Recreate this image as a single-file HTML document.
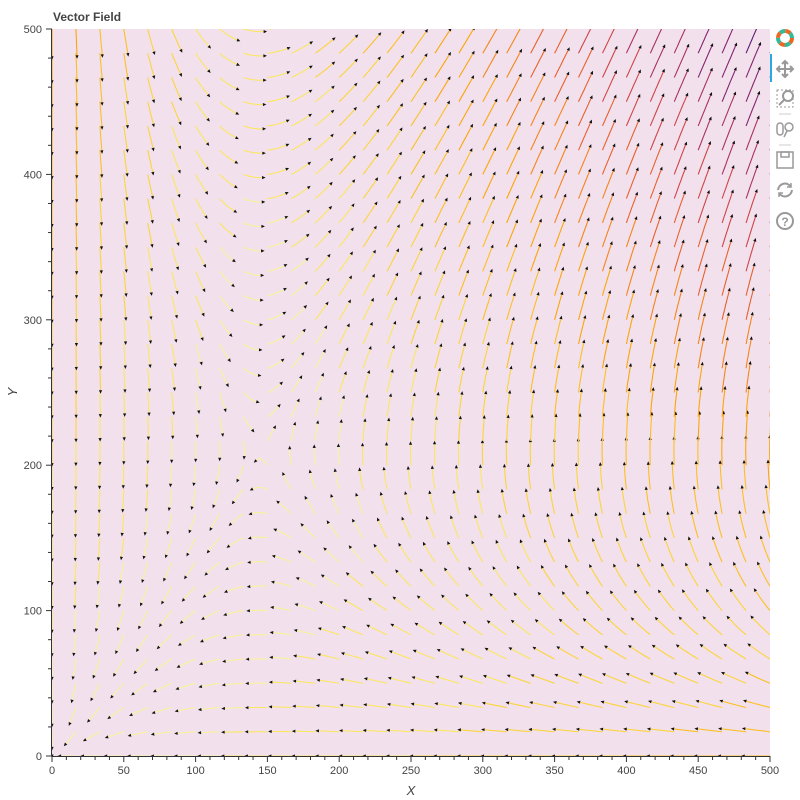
<!DOCTYPE html>
<html><head><meta charset="utf-8"><style>
body{margin:0;background:#fff;width:800px;height:800px;overflow:hidden;font-family:"Liberation Sans",sans-serif}
</style></head><body>
<svg id="chart" width="800" height="800" xmlns="http://www.w3.org/2000/svg" style="position:absolute;left:0;top:0">
<defs><clipPath id="clip"><rect x="52" y="29" width="718" height="727"/></clipPath></defs>
<text x="53" y="21" font-size="12" font-weight="bold" fill="#444">Vector Field</text>
<rect x="52" y="29" width="718" height="727" fill="#f2e1ed"/>
<g id="field" clip-path="url(#clip)"></g>
<g id="axes"></g>
<text x="411" y="795" font-size="13" font-style="italic" fill="#444" text-anchor="middle">X</text>
<text x="17" y="392" font-size="13" font-style="italic" fill="#444" text-anchor="middle" transform="rotate(-90 17 392)">Y</text>
<g>
 <g transform="translate(785,38)">
  <circle r="7" fill="none" stroke="#e62" stroke-width="4" stroke-dasharray="5.5 5.5"/>
  <circle r="7" fill="none" stroke="#3b9" stroke-width="4" stroke-dasharray="5.5 5.5" stroke-dashoffset="5.5"/>
  <circle r="3.5" fill="#fff"/>
 </g>
 <rect x="770" y="54" width="2" height="28" fill="#26aae1"/>
 <g stroke="#999" stroke-width="2" fill="none"><path d="M785 61v16M777 69h16"/><path d="M782 64l3-3 3 3M782 74l3 3 3-3M780 66l-3 3 3 3M790 66l3 3-3 3"/></g>
 <g fill="none" stroke="#999"><rect x="777" y="90" width="16" height="17" stroke-dasharray="2 2"/><circle cx="788" cy="96" r="5" stroke-width="2"/><path d="M784 100l-5 5" stroke-width="2"/></g>
 <path d="M779 114h12M779 145h12" stroke="#ccc"/>
 <g fill="none" stroke="#999" stroke-width="1.5"><rect x="777" y="123" width="6" height="12" rx="3"/><circle cx="789" cy="127" r="4"/><path d="M787 131l-3 6"/></g>
 <g fill="none" stroke="#999" stroke-width="1.5"><rect x="777" y="152" width="16" height="16"/><rect x="781" y="152" width="8" height="5"/></g>
 <g fill="none" stroke="#999" stroke-width="2"><path d="M778 190a7 7 0 0 1 13-3M792 190a7 7 0 0 1-13 3"/><path d="M791 183v4h-4M779 197v-4h4" stroke-width="1.5"/></g>
 <g><circle cx="785" cy="221" r="8" fill="none" stroke="#999" stroke-width="2"/><text x="785" y="226" font-size="12" font-weight="bold" fill="#999" text-anchor="middle">?</text></g>
</g>
</svg>
<script>
// grid coordinates (data units)
const gridX = [0,16.67,33.33,50,66.67,83.33,100,116.67,133.33,150,166.67,183.33,200,216.67,233.33,250,266.67,283.33,300,316.67,333.33,350,366.67,383.33,400,416.67,433.33,450,466.67,483.33,500];
const gridY = gridX.slice();
// field parameters: saddle location and vertical gain
const saddleX = [145];
const saddleY = [210];
const vGain = [1.9];
const xTicks = [0,50,100,150,200,250,300,350,400,450,500];
const yTicks = [0,100,200,300,400,500];

const X0=52,X1=770,Y0=756,Y1=29;
const sx = v => X0 + (v/500)*(X1-X0);
const sy = v => Y0 - (v/500)*(Y0-Y1);
function field(x,y){ return [x*(y-saddleY[0]), vGain[0]*y*(x-saddleX[0])]; }
const NS="http://www.w3.org/2000/svg";
const pal=["#f8f29a","#fbe660","#fcd43a","#fcbf22","#fca50a","#f6841a","#e8602c","#cf4446","#aa3160","#83246f","#5e1a75"];
function col(t){t=Math.max(0,Math.min(0.999,t));return pal[Math.floor(t*pal.length)];}
let mmax=0;
gridX.forEach(x=>gridY.forEach(y=>{const f=field(x,y);mmax=Math.max(mmax,Math.hypot(f[0],f[1]));}));
const g=document.getElementById('field');
gridX.forEach((x,i)=>gridY.forEach((y,j)=>{
  const f=field(x,y);const m=Math.hypot(f[0],f[1]);const t=m/mmax;
  const L=14+24*Math.sqrt(t);
  let px=sx(x),py=sy(y);const pts=[[px,py]];
  const n=10;let dx=0,dy=-1;
  for(let k=0;k<n;k++){
    const dxv=(px-X0)/(X1-X0)*500, dyv=(Y0-py)/(Y0-Y1)*500;
    const ff=field(dxv,dyv);let a=ff[0],b=-ff[1];const h=Math.hypot(a,b);
    if(h>0){dx=a/h;dy=b/h;}
    px+=dx*L/n;py+=dy*L/n;pts.push([px,py]);
  }
  const pl=document.createElementNS(NS,'polyline');
  
  
  pl.setAttribute('points',pts.map(p=>p[0].toFixed(1)+','+p[1].toFixed(1)).join(' '));
  pl.setAttribute('fill','none');pl.setAttribute('stroke',col(Math.pow(t,0.9)));pl.setAttribute('stroke-width','1.1');
  g.appendChild(pl);
  const tr=document.createElementNS(NS,'polygon');
  
  
  const ex=px,ey=py,nx=-dy,ny=dx;
  tr.setAttribute('points',[[ex+dx*2,ey+dy*2],[ex-dx*1.5+nx*1.6,ey-dy*1.5+ny*1.6],[ex-dx*1.5-nx*1.6,ey-dy*1.5-ny*1.6]].map(p=>p[0].toFixed(1)+','+p[1].toFixed(1)).join(' '));
  tr.setAttribute('fill','#111');
  g.appendChild(tr);
}));
const ax=document.getElementById('axes');
function line(x1,y1,x2,y2,name){const l=document.createElementNS(NS,'line');
  
  
  l.setAttribute('x1',x1);l.setAttribute('y1',y1);l.setAttribute('x2',x2);l.setAttribute('y2',y2);l.setAttribute('stroke','#333');ax.appendChild(l);}
function text(x,y,s,anchor,name){const t=document.createElementNS(NS,'text');
  
  
  t.setAttribute('x',x);t.setAttribute('y',y);t.setAttribute('font-size','11');t.setAttribute('fill','#444');t.setAttribute('text-anchor',anchor);t.textContent=s;ax.appendChild(t);}
line(X0,Y0+0.5,X1,Y0+0.5,'x-axis-line');
line(X0-0.5,Y0,X0-0.5,Y1,'y-axis-line');
for(let v=0;v<=500;v+=10){const x=sx(v);line(x,Y0,x,Y0+(v%50===0?6:4),'x-tick');}
for(let v=0;v<=500;v+=20){const y=sy(v);line(X0,y,X0-(v%100===0?6:4),y,'y-tick');}
xTicks.forEach(v=>text(sx(v),Y0+18,String(v),'middle','x-tick-label'));
yTicks.forEach(v=>text(X0-10,sy(v)+4,String(v),'end','y-tick-label'));
</script>
</body></html>
